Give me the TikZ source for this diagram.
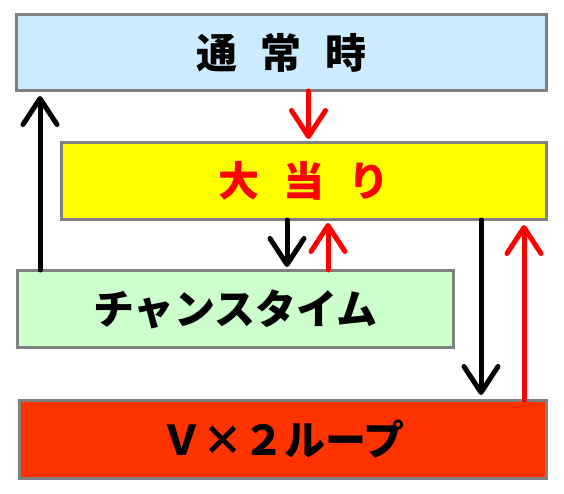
\documentclass[tikz,border=0pt]{standalone}
\usepackage{fontspec}
\newfontfamily\jp{Noto Sans CJK JP}
\usetikzlibrary{arrows.meta}
\definecolor{bordergray}{HTML}{808080}
\definecolor{lblue}{HTML}{CCEBFF}
\definecolor{lyellow}{HTML}{FFFF00}
\definecolor{lgreen}{HTML}{CCFFCC}
\definecolor{lorange}{HTML}{FF3300}
\definecolor{pred}{HTML}{FF0000}
\tikzset{
  statebox/.style={draw=bordergray, line width=3pt, rectangle, inner sep=0pt,
    font=\jp\bfseries\fontsize{41pt}{44pt}\selectfont},
  arr/.style={line width=5pt, line cap=round,
    -{Straight Barb[length=26pt,width=34pt,round]}},
  blk/.style={arr, draw=black},
  rd/.style={arr, draw=pred},
}
\begin{document}
\begin{tikzpicture}[x=1pt,y=-1pt]
\useasboundingbox (0,0) rectangle (564,494);
\node[statebox, fill=lblue, minimum width=530pt, minimum height=76pt] (b1) at (281.5,52.5) {通\hspace{24pt}常\hspace{24pt}時};
\node[statebox, fill=lyellow, text=pred, minimum width=485pt, minimum height=77pt] (b2) at (304,181) {大\hspace{24pt}当\hspace{24pt}り};
\node[statebox, fill=lgreen, minimum width=436pt, minimum height=77pt] (b3) at (235.5,309) {チャンスタイム};
\node[statebox, fill=lorange, minimum width=527pt, minimum height=78pt] (b4) at (283,439.5) {Ｖ×２ループ};
% arrows
\draw[blk, shorten <=-1pt, shorten >=4pt] (b3.north -| 40,0) -- (b1.south -| 40,0);
\draw[rd, shorten <=-1pt, shorten >=2pt] (b1.south -| 308.5,0) -- (b2.north -| 308.5,0);
\draw[blk, shorten <=-1pt, shorten >=2pt] (b2.south -| 287,0) -- (b3.north -| 287,0);
\draw[rd, shorten <=-1pt, shorten >=2pt] (b3.north -| 328,0) -- (b2.south -| 328,0);
\draw[blk, shorten <=-1pt, shorten >=4pt] (b2.south -| 481,0) -- (b4.north -| 481,0);
\draw[rd, shorten <=-1pt, shorten >=4pt] (b4.north -| 524,0) -- (b2.south -| 524,0);
\end{tikzpicture}
\end{document}
